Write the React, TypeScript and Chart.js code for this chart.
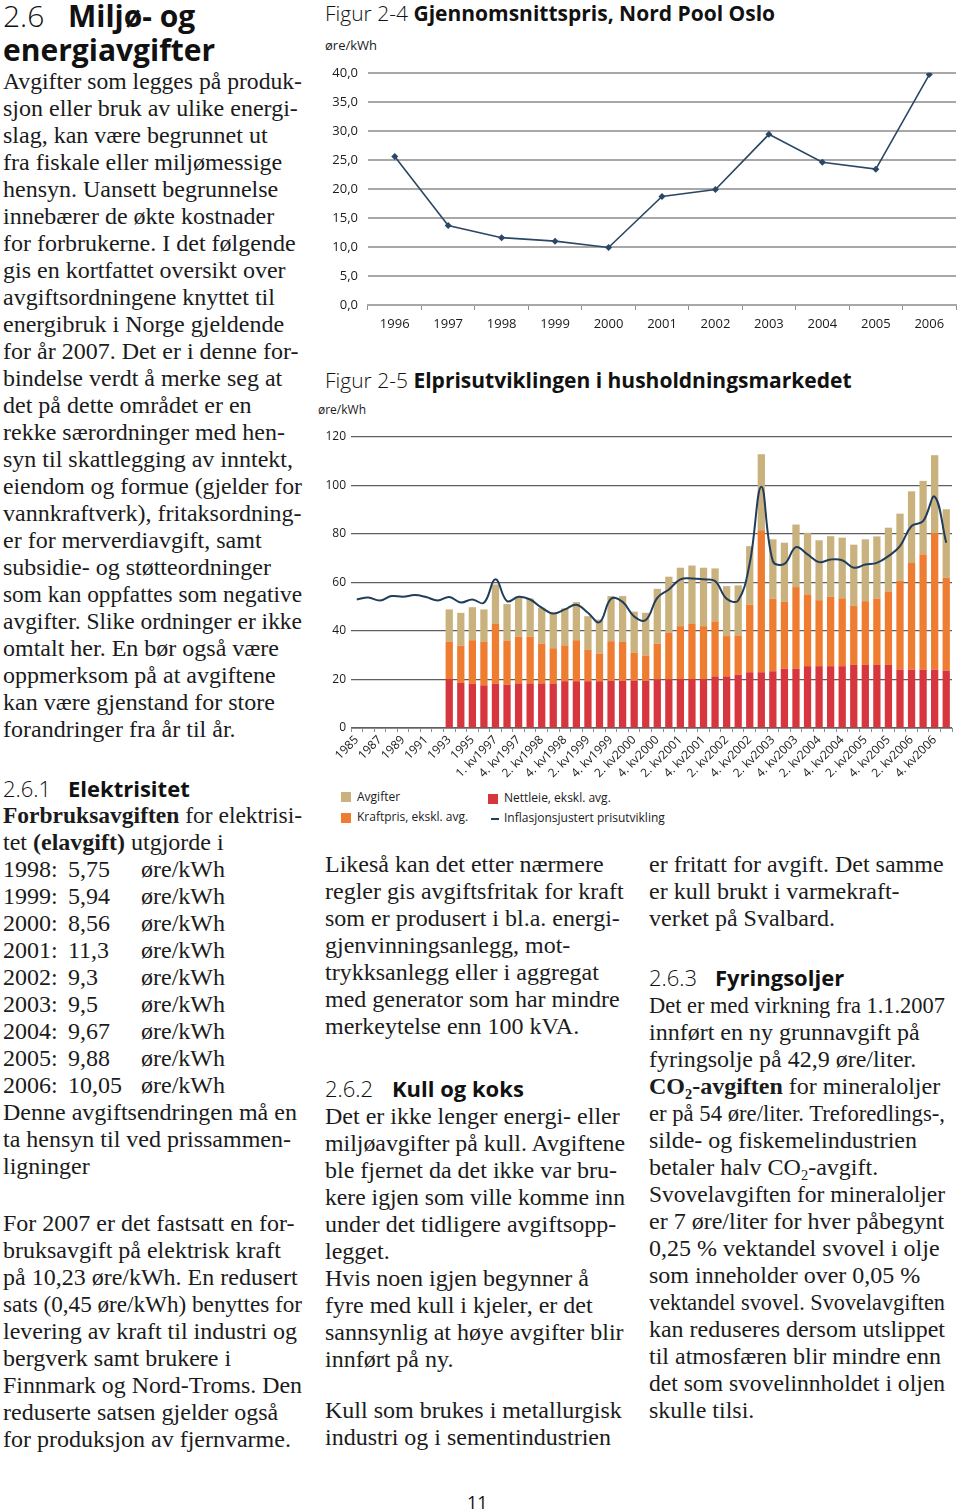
import React, { useEffect, useLayoutEffect, useRef } from 'react';
import { Chart, registerables } from 'chart.js';

Chart.register(...registerables);

// ---------- Figur 2-4 data ----------
const years = ['1996', '1997', '1998', '1999', '2000', '2001', '2002', '2003', '2004', '2005', '2006'];
const nordPoolPrice = [25.6, 13.7, 11.6, 11.0, 9.9, 18.7, 19.9, 29.4, 24.6, 23.4, 39.7];
const fig24Ticks = [0, 5, 10, 15, 20, 25, 30, 35, 40];

// ---------- Figur 2-5 data ----------
const periods = [
  '1985', '1986', '1987', '1988', '1989', '1990', '1991', '1992', '1993', '1994', '1995', '1996',
  '1. kv1997', '3. kv1997', '4. kv1997',
  '1. kv1998', '2. kv1998', '3. kv1998', '4. kv1998',
  '1. kv1999', '2. kv1999', '3. kv1999', '4. kv1999',
  '1. kv2000', '2. kv2000', '3. kv2000', '4. kv2000',
  '1. kv2001', '2. kv2001', '3. kv2001', '4. kv2001',
  '1. kv2002', '2. kv2002', '3. kv2002', '4. kv2002',
  '1. kv2003', '2. kv2003', '3. kv2003', '4. kv2003',
  '1. kv2004', '2. kv2004', '3. kv2004', '4. kv2004',
  '1. kv2005', '2. kv2005', '3. kv2005', '4. kv2005',
  '1. kv2006', '2. kv2006', '3. kv2006', '4. kv2006',
  '1. kv2007',
];
const nettleie = [
  null, null, null, null, null, null, null, null,
  20.2, 18.6, 18.2, 17.6, 18.2, 17.9, 18.4, 18.4, 18.4, 18.4, 19.3, 19.3,
  19.3, 19.3, 19.5, 19.5, 19.5, 19.5, 20.0, 20.0, 20.2, 20.2, 20.2, 21.3,
  21.3, 22.0, 23.0, 23.0, 23.4, 24.4, 24.4, 25.5, 25.5, 25.5, 25.5, 26.0,
  26.0, 26.0, 26.0, 24.1, 24.1, 24.1, 24.1, 23.7,
];
const kraftpris = [
  null, null, null, null, null, null, null, null,
  15.3, 15.4, 18.0, 17.9, 24.7, 18.2, 19.3, 19.3, 16.4, 14.5, 14.8, 16.9,
  12.9, 11.4, 16.3, 16.0, 11.5, 10.4, 14.8, 19.2, 21.8, 22.7, 21.8, 22.7,
  16.6, 16.2, 27.9, 58.5, 29.9, 27.6, 33.7, 29.6, 27.2, 28.6, 28.0, 24.5,
  26.3, 27.4, 30.3, 36.6, 44.0, 47.5, 56.3, 38.2,
];
const avgifter = [
  null, null, null, null, null, null, null, null,
  13.4, 13.5, 13.6, 13.4, 16.3, 15.0, 16.3, 15.7, 14.8, 14.6, 15.2, 15.7,
  13.9, 14.0, 18.6, 18.9, 17.0, 17.6, 22.6, 23.2, 24.1, 24.1, 24.1, 21.8,
  20.6, 20.6, 24.1, 31.4, 24.5, 24.4, 25.8, 25.4, 24.7, 25.0, 25.0, 25.1,
  25.5, 25.6, 26.3, 27.7, 29.5, 30.3, 32.1, 28.3,
];
const inflasjonsjustert = [
  53.0, 53.8, 52.6, 54.4, 54.1, 54.8, 54.0, 52.6, 54.0, 51.8, 53.0, 51.6,
  61.3, 52.3, 54.1, 53.0, 49.6, 47.2, 48.9, 50.8, 47.5, 43.6, 53.3, 52.0,
  46.0, 44.5, 53.7, 57.1, 61.3, 61.7, 61.3, 60.6, 53.3, 52.6, 68.0, 99.5,
  68.8, 67.7, 74.6, 71.6, 68.4, 69.5, 69.2, 66.1, 67.4, 68.1, 70.9, 75.0,
  83.3, 85.3, 95.4, 76.4,
];

// ---------- Text ----------
const leftIntro = [
  'Avgifter som legges på produk-',
  'sjon eller bruk av ulike energi-',
  'slag, kan være begrunnet ut',
  'fra fiskale eller miljømessige',
  'hensyn. Uansett begrunnelse',
  'innebærer de økte kostnader',
  'for forbrukerne. I det følgende',
  'gis en kortfattet oversikt over',
  'avgiftsordningene knyttet til',
  'energibruk i Norge gjeldende',
  'for år 2007. Det er i denne for-',
  'bindelse verdt å merke seg at',
  'det på dette området er en',
  'rekke særordninger med hen-',
  'syn til skattlegging av inntekt,',
  'eiendom og formue (gjelder for',
  'vannkraftverk), fritaksordning-',
  'er for merverdiavgift, samt',
  'subsidie- og støtteordninger',
  'som kan oppfattes som negative',
  'avgifter. Slike ordninger er ikke',
  'omtalt her. En bør også være',
  'oppmerksom på at avgiftene',
  'kan være gjenstand for store',
  'forandringer fra år til år.',
];
const elIntro = ['**Forbruksavgiften** for elektrisi-', 'tet **(elavgift)** utgjorde i'];
const elYears = ['1998:', '1999:', '2000:', '2001:', '2002:', '2003:', '2004:', '2005:', '2006:'];
const elRates = ['5,75', '5,94', '8,56', '11,3', '9,3', '9,5', '9,67', '9,88', '10,05'];
const elAfter = ['Denne avgiftsendringen må en', 'ta hensyn til ved prissammen-', 'ligninger'];
const el2007 = [
  'For 2007 er det fastsatt en for-',
  'bruksavgift på elektrisk kraft',
  'på 10,23 øre/kWh. En redusert',
  'sats (0,45 øre/kWh) benyttes for',
  'levering av kraft til industri og',
  'bergverk samt brukere i',
  'Finnmark og Nord-Troms. Den',
  'reduserte satsen gjelder også',
  'for produksjon av fjernvarme.',
];
const midTop = [
  'Likeså kan det etter nærmere',
  'regler gis avgiftsfritak for kraft',
  'som er produsert i bl.a. energi-',
  'gjenvinningsanlegg, mot-',
  'trykksanlegg eller i aggregat',
  'med generator som har mindre',
  'merkeytelse enn 100 kVA.',
];
const kullLines = [
  'Det er ikke lenger energi- eller',
  'miljøavgifter på kull. Avgiftene',
  'ble fjernet da det ikke var bru-',
  'kere igjen som ville komme inn',
  'under det tidligere avgiftsopp-',
  'legget.',
  'Hvis noen igjen begynner å',
  'fyre med kull i kjeler, er det',
  'sannsynlig at høye avgifter blir',
  'innført på ny.',
];
const kullLines2 = ['Kull som brukes i metallurgisk', 'industri og i sementindustrien'];
const rightTop = ['er fritatt for avgift. Det samme', 'er kull brukt i varmekraft-', 'verket på Svalbard.'];
const fyrLines = [
  'Det er med virkning fra 1.1.2007',
  'innført en ny grunnavgift på',
  'fyringsolje på 42,9 øre/liter.',
  '**CO~2~-avgiften** for mineraloljer',
  'er på 54 øre/liter. Treforedlings-,',
  'silde- og fiskemelindustrien',
  'betaler halv CO~2~-avgift.',
  'Svovelavgiften for mineraloljer',
  'er 7 øre/liter for hver påbegynt',
  '0,25 % vektandel svovel i olje',
  'som inneholder over 0,05 %',
  'vektandel svovel. Svovelavgiften',
  'kan reduseres dersom utslippet',
  'til atmosfæren blir mindre enn',
  'det som svovelinnholdet i oljen',
  'skulle tilsi.',
];

const SERIF = '"Liberation Serif", "Times New Roman", serif';
const SANS = '"Open Sans", "Noto Sans", sans-serif';
const SERIF_K = 0.8375;
const SANS_K = 0.888;
const TEXT = '#1b1b1b';
const PITCH = 27;

const TAN = '#c9b27d';
const ORANGE = '#ee7d31';
const RED = '#d8363f';
const NAVY = '#213d5c';

function rich(s: string) {
  const out: React.ReactNode[] = [];
  const parts = s.split('**');
  parts.forEach((p, i) => {
    const bold = i % 2 === 1;
    const sub = p.split('~');
    const nodes = sub.map((q, j) =>
      j % 2 === 1 ? (
        <span key={j} style={{ fontSize: '0.6em', position: 'relative', top: '0.3em' }}>{q}</span>
      ) : (
        <React.Fragment key={j}>{q}</React.Fragment>
      )
    );
    out.push(
      <span key={i} style={{ fontWeight: bold ? 700 : 400 }}>
        {nodes}
      </span>
    );
  });
  return out;
}

function Line(props: {
  x: number;
  baseline: number;
  size?: number;
  font?: string;
  k?: number;
  children: React.ReactNode;
  weight?: number;
  color?: string;
  maxW?: number;
}) {
  const size = props.size ?? 24;
  const k = props.k ?? SERIF_K;
  const ref = useRef<HTMLDivElement | null>(null);
  useLayoutEffect(() => {
    const el = ref.current;
    if (!el || !props.maxW) return;
    el.style.transform = '';
    const w = el.getBoundingClientRect().width;
    if (w > props.maxW) {
      el.style.transformOrigin = '0 0';
      el.style.transform = `scaleX(${props.maxW / w})`;
    }
  });
  return (
    <div
      ref={ref}
      style={{
        position: 'absolute',
        left: props.x,
        top: props.baseline - k * size,
        fontSize: size,
        lineHeight: size + 'px',
        fontFamily: props.font ?? SERIF,
        fontWeight: props.weight ?? 400,
        whiteSpace: 'nowrap',
        color: props.color ?? TEXT,
      }}
    >
      {props.children}
    </div>
  );
}

function Para(props: { x: number; baseline: number; lines: string[]; maxW: number; pitch?: number }) {
  const pitch = props.pitch ?? PITCH;
  return (
    <>
      {props.lines.map((l, i) => (
        <Line key={i} x={props.x} baseline={props.baseline + i * pitch} maxW={props.maxW}>
          {rich(l)}
        </Line>
      ))}
    </>
  );
}

function Heading(props: { x: number; x2: number; baseline: number; num: string; title: string; size?: number }) {
  const size = props.size ?? 22;
  return (
    <>
      <Line x={props.x} baseline={props.baseline} size={size} font={SANS} k={SANS_K} weight={300} color="#111">
        {props.num}
      </Line>
      <Line x={props.x2} baseline={props.baseline} size={size} font={SANS} k={SANS_K} weight={700} color="#111">
        {props.title}
      </Line>
    </>
  );
}

function Fig24() {
  const ref = useRef<HTMLCanvasElement | null>(null);
  useEffect(() => {
    if (!ref.current) return;
    const chart = new Chart(ref.current, {
      type: 'line',
      data: {
        labels: years,
        datasets: [
          {
            data: nordPoolPrice,
            borderColor: '#2b4766',
            borderWidth: 1.6,
            pointStyle: 'rectRot',
            pointRadius: 3.5,
            pointBackgroundColor: '#2b4766',
            pointBorderColor: '#2b4766',
            pointBorderWidth: 0,
            tension: 0,
          },
        ],
      },
      options: {
        animation: false,
        responsive: false,
        maintainAspectRatio: false,
        layout: { padding: { top: 15, right: 4, left: 0, bottom: 0 } },
        plugins: { legend: { display: false }, tooltip: { enabled: false } },
        scales: {
          x: {
            offset: true,
            grid: { offset: true, drawOnChartArea: false, drawTicks: true, tickLength: 5, color: '#8d8d8d' },
            border: { display: true, color: '#a8a8a8', width: 2 },
            ticks: { autoSkip: false, maxRotation: 0, padding: 6, color: '#1a1a1a', font: { family: SANS, size: 13 } },
            afterFit: (s: any) => {
              s.height = 35;
            },
          },
          y: {
            min: 0,
            max: 40,
            afterBuildTicks: (s: any) => {
              s.ticks = fig24Ticks.map((v) => ({ value: v }));
            },
            ticks: {
              padding: 10,
              color: '#1a1a1a',
              font: { family: SANS, size: 13 },
              callback: (v: any) => Number(v).toFixed(1).replace('.', ','),
            },
            grid: { color: '#a8a8a8', lineWidth: 2, drawTicks: false },
            border: { display: false },
            afterFit: (s: any) => {
              s.width = 48;
            },
          },
        },
      },
    });
    return () => chart.destroy();
  }, []);
  return <canvas ref={ref} width={640} height={285} style={{ position: 'absolute', left: 320, top: 55, width: 640, height: 285 }} />;
}

function Fig25() {
  const ref = useRef<HTMLCanvasElement | null>(null);
  useEffect(() => {
    if (!ref.current) return;
    const chart = new Chart(ref.current, {
      type: 'bar',
      data: {
        labels: periods,
        datasets: [
          {
            type: 'line',
            label: 'Inflasjonsjustert prisutvikling',
            data: inflasjonsjustert,
            borderColor: NAVY,
            borderWidth: 2,
            pointRadius: 0,
            tension: 0.4,
            fill: false,
            stack: 'line',
            order: 0,
          } as any,
          { label: 'Nettleie, ekskl. avg.', data: nettleie, backgroundColor: RED, stack: 'bars', order: 1 },
          { label: 'Kraftpris, ekskl. avg.', data: kraftpris, backgroundColor: ORANGE, stack: 'bars', order: 1 },
          { label: 'Avgifter', data: avgifter, backgroundColor: TAN, stack: 'bars', order: 1 },
        ],
      },
      options: {
        animation: false,
        responsive: false,
        maintainAspectRatio: false,
        datasets: { bar: { barPercentage: 0.63, categoryPercentage: 1 } },
        layout: { padding: { top: 17, right: 8, left: 0, bottom: 0 } },
        plugins: { legend: { display: false }, tooltip: { enabled: false } },
        scales: {
          x: {
            stacked: true,
            grid: { offset: true, drawOnChartArea: false, drawTicks: true, tickLength: 4, color: '#8c8c8c' },
            border: { display: true, color: '#8c8c8c' },
            ticks: {
              autoSkip: false,
              minRotation: 45,
              maxRotation: 45,
              padding: 1,
              color: '#1a1a1a',
              font: { family: SANS, size: 12 },
              callback: (_v: any, i: number) => (i % 2 === 0 ? periods[i] : ''),
            },
            afterFit: (s: any) => {
              s.height = 57;
            },
          },
          y: {
            stacked: true,
            min: 0,
            max: 120,
            ticks: { stepSize: 20, padding: 5, color: '#1a1a1a', font: { family: SANS, size: 12 } },
            grid: { color: '#5f5f5f', lineWidth: 1.2, drawTicks: false },
            border: { display: false },
            afterFit: (s: any) => {
              s.width = 41;
            },
          },
        },
      },
    });
    return () => chart.destroy();
  }, []);
  return <canvas ref={ref} width={650} height={365} style={{ position: 'absolute', left: 310, top: 420, width: 650, height: 365 }} />;
}

function LegendItem(props: { x: number; y: number; color: string; label: string; line?: boolean }) {
  return (
    <>
      {props.line ? (
        <div style={{ position: 'absolute', left: props.x + 3, top: props.y - 1, width: 8, height: 2, background: NAVY }} />
      ) : (
        <div style={{ position: 'absolute', left: props.x, top: props.y - 5, width: 10, height: 10, background: props.color }} />
      )}
      <Line x={props.x + 16} baseline={props.y + 4.5} size={12} font={SANS} k={SANS_K} color="#1a1a1a">
        {props.label}
      </Line>
    </>
  );
}

export default function App() {
  const elBase = 823.3;
  return (
    <div style={{ position: 'absolute', left: 0, top: 0, width: 960, height: 1511, background: '#fff', overflow: 'hidden' }}>
      {/* Left column */}
      <Heading x={3} x2={68} baseline={28} num="2.6" title="Miljø- og" size={30} />
      <Line x={3} baseline={62} size={30} font={SANS} k={SANS_K} weight={700} color="#111">
        energiavgifter
      </Line>
      <Para x={3} baseline={89} lines={leftIntro} maxW={299} />
      <Heading x={3} x2={68} baseline={796.7} num="2.6.1" title="Elektrisitet" />
      <Para x={3} baseline={elBase} lines={elIntro} maxW={299} />
      {elYears.map((y, i) => (
        <React.Fragment key={y}>
          <Line x={3} baseline={elBase + (i + 2) * PITCH}>{y}</Line>
          <Line x={68} baseline={elBase + (i + 2) * PITCH}>{elRates[i]}</Line>
          <Line x={141} baseline={elBase + (i + 2) * PITCH}>øre/kWh</Line>
        </React.Fragment>
      ))}
      <Para x={3} baseline={elBase + 11 * PITCH} lines={elAfter} maxW={299} />
      <Para x={3} baseline={1231.5} lines={el2007} maxW={299} />

      {/* Figur 2-4 */}
      <Line x={325} baseline={21.5} size={21} font={SANS} k={SANS_K} color="#111">
        <span style={{ fontWeight: 300 }}>Figur 2-4 </span>
        <span style={{ fontWeight: 700 }}>Gjennomsnittspris, Nord Pool Oslo</span>
      </Line>
      <Line x={325} baseline={51} size={13} font={SANS} k={SANS_K} color="#1a1a1a">
        øre/kWh
      </Line>
      <Fig24 />

      {/* Figur 2-5 */}
      <Line x={325} baseline={388.5} size={21} font={SANS} k={SANS_K} color="#111">
        <span style={{ fontWeight: 300 }}>Figur 2-5 </span>
        <span style={{ fontWeight: 700 }}>Elprisutviklingen i husholdningsmarkedet</span>
      </Line>
      <Line x={318} baseline={415} size={12} font={SANS} k={SANS_K} color="#1a1a1a">
        øre/kWh
      </Line>
      <Fig25 />
      <LegendItem x={341} y={797} color={TAN} label="Avgifter" />
      <LegendItem x={341} y={817.5} color={ORANGE} label="Kraftpris, ekskl. avg." />
      <LegendItem x={488} y={798.5} color={RED} label="Nettleie, ekskl. avg." />
      <LegendItem x={488} y={818.5} color={NAVY} label="Inflasjonsjustert prisutvikling" line />

      {/* Middle column */}
      <Para x={325} baseline={872.5} lines={midTop} maxW={300} />
      <Heading x={325} x2={392} baseline={1096.7} num="2.6.2" title="Kull og koks" />
      <Para x={325} baseline={1124.5} lines={kullLines} maxW={300} />
      <Para x={325} baseline={1418} lines={kullLines2} maxW={300} />

      {/* Right column */}
      <Para x={649} baseline={872.5} lines={rightTop} maxW={296} />
      <Heading x={649} x2={715} baseline={986} num="2.6.3" title="Fyringsoljer" />
      <Para x={649} baseline={1013.5} lines={fyrLines} maxW={296} />

      {/* Page number */}
      <Line x={467} baseline={1508.5} size={18} font={SANS} k={SANS_K} color="#111">
        11
      </Line>
    </div>
  );
}
